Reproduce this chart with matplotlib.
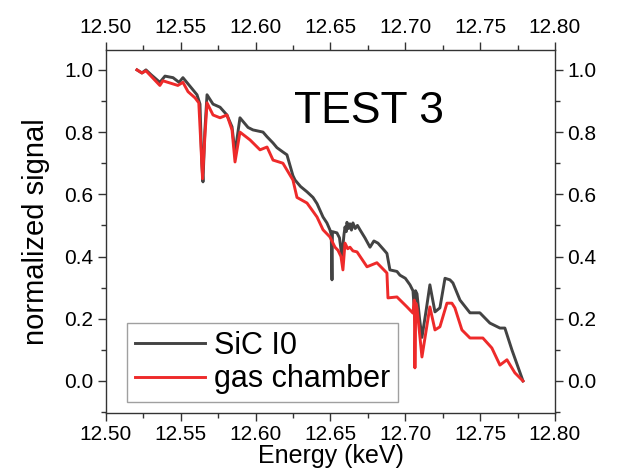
import matplotlib
matplotlib.use("Agg")
import matplotlib.pyplot as plt
from matplotlib.ticker import MultipleLocator

plt.rcParams['font.family'] = ['Liberation Sans', 'DejaVu Sans']

# SiC I0 (dark grey trace)
energy_sic = [12.5207, 12.5240, 12.5267, 12.5300, 12.5360, 12.5394, 12.5448, 12.5488,
              12.5514, 12.5574, 12.5608, 12.5628, 12.5640, 12.5648, 12.5660, 12.5675,
              12.5715, 12.5762, 12.5808, 12.5842, 12.5862, 12.5895, 12.5949, 12.5982,
              12.6049, 12.6076, 12.6116, 12.6142, 12.6182, 12.6209, 12.6249, 12.6263,
              12.6300, 12.6343, 12.6383, 12.6410, 12.6450, 12.6476, 12.6496, 12.6505,
              12.6510, 12.6513, 12.6543, 12.6560, 12.6576, 12.6590, 12.6597, 12.6605,
              12.6610, 12.6620, 12.6630, 12.6640, 12.6650, 12.6665, 12.6680, 12.6697,
              12.6730, 12.6764, 12.6790, 12.6817, 12.6850, 12.6877, 12.6897, 12.6944,
              12.6964, 12.7000, 12.7031, 12.7051, 12.7060, 12.7068, 12.7078, 12.7095,
              12.7111, 12.7140, 12.7164, 12.7198, 12.7231, 12.7265, 12.7298, 12.7318,
              12.7365, 12.7432, 12.7498, 12.7565, 12.7632, 12.7665, 12.7712, 12.7786]
signal_sic = [1.000, 0.990, 1.000, 0.985, 0.960, 0.980, 0.975, 0.960,
              0.975, 0.940, 0.920, 0.890, 0.700, 0.640, 0.800, 0.920,
              0.890, 0.880, 0.855, 0.817, 0.733, 0.846, 0.815, 0.807,
              0.800, 0.785, 0.765, 0.750, 0.736, 0.727, 0.660, 0.646,
              0.625, 0.608, 0.590, 0.570, 0.527, 0.508, 0.486, 0.470,
              0.325, 0.480, 0.476, 0.460, 0.400, 0.470, 0.495, 0.480,
              0.510, 0.490, 0.505, 0.485, 0.508, 0.490, 0.500, 0.486,
              0.460, 0.430, 0.450, 0.443, 0.425, 0.410, 0.357, 0.352,
              0.340, 0.330, 0.309, 0.290, 0.230, 0.290, 0.280, 0.200,
              0.140, 0.230, 0.309, 0.222, 0.235, 0.330, 0.325, 0.315,
              0.260, 0.219, 0.219, 0.186, 0.170, 0.170, 0.100, 0.000]

# gas chamber (red trace)
energy_gas = [12.5207, 12.5240, 12.5267, 12.5360, 12.5380, 12.5480, 12.5514, 12.5548,
              12.5595, 12.5620, 12.5635, 12.5645, 12.5660, 12.5675, 12.5715, 12.5762,
              12.5808, 12.5842, 12.5862, 12.5895, 12.5962, 12.6029, 12.6076, 12.6116,
              12.6182, 12.6249, 12.6276, 12.6343, 12.6410, 12.6450, 12.6496, 12.6530,
              12.6550, 12.6570, 12.6583, 12.6597, 12.6615, 12.6630, 12.6650, 12.6677,
              12.6744, 12.6810, 12.6877, 12.6884, 12.6944, 12.7011, 12.7051, 12.7060,
              12.7064, 12.7070, 12.7078, 12.7111, 12.7164, 12.7198, 12.7231, 12.7278,
              12.7311, 12.7331, 12.7378, 12.7432, 12.7518, 12.7578, 12.7632, 12.7679,
              12.7732, 12.7786]
signal_gas = [1.000, 0.990, 0.997, 0.950, 0.965, 0.950, 0.960, 0.930,
              0.910, 0.894, 0.750, 0.650, 0.780, 0.894, 0.855, 0.846,
              0.855, 0.807, 0.704, 0.800, 0.775, 0.743, 0.752, 0.710,
              0.700, 0.646, 0.590, 0.572, 0.527, 0.486, 0.463, 0.430,
              0.420, 0.400, 0.357, 0.443, 0.425, 0.430, 0.418, 0.415,
              0.367, 0.380, 0.347, 0.267, 0.270, 0.238, 0.218, 0.260,
              0.042, 0.250, 0.235, 0.077, 0.238, 0.164, 0.174, 0.250,
              0.250, 0.235, 0.164, 0.138, 0.138, 0.106, 0.051, 0.068,
              0.026, 0.000]

fig = plt.figure(figsize=(6.25, 4.76), dpi=100)
ax = fig.add_axes([0.1696, 0.1324, 0.7184, 0.7626])

ax.plot(energy_sic, signal_sic, color='#434343', lw=2.1, label='SiC I0')
ax.plot(energy_gas, signal_gas, color='#ee2a2a', lw=2.1, label='gas chamber')

ax.set_xlim(12.50, 12.80)
ax.set_ylim(-0.103, 1.064)
ax.xaxis.set_major_locator(MultipleLocator(0.05))
ax.xaxis.set_minor_locator(MultipleLocator(0.025))
ax.yaxis.set_major_locator(MultipleLocator(0.2))
ax.yaxis.set_minor_locator(MultipleLocator(0.1))
ax.xaxis.set_major_formatter(plt.FormatStrFormatter('%.2f'))
ax.yaxis.set_major_formatter(plt.FormatStrFormatter('%.1f'))

ax.tick_params(which='both', direction='out', top=True, right=True,
               labeltop=True, labelright=True, labelsize=15, color='#333333')
ax.tick_params(which='major', length=6, width=1, pad=3)
ax.tick_params(which='minor', length=3.5, width=1)
for s in ax.spines.values():
    s.set_color('#333333')
    s.set_linewidth(1)

ax.set_xlabel('Energy (keV)', fontsize=18, labelpad=0)
ax.set_ylabel('normalized signal', fontsize=21, labelpad=10)

ax.text(12.6757, 0.865, 'TEST 3', fontsize=32, ha='center', va='center')

leg = ax.legend(loc='lower left', bbox_to_anchor=(0.047, 0.030), fontsize=22,
                frameon=True, fancybox=False, handlelength=2.3, handletextpad=0.3,
                labelspacing=0.12, borderpad=0.25, borderaxespad=0)
leg.get_frame().set_edgecolor('#888888')
leg.get_frame().set_linewidth(1)

fig.savefig('out.png', dpi=100)
